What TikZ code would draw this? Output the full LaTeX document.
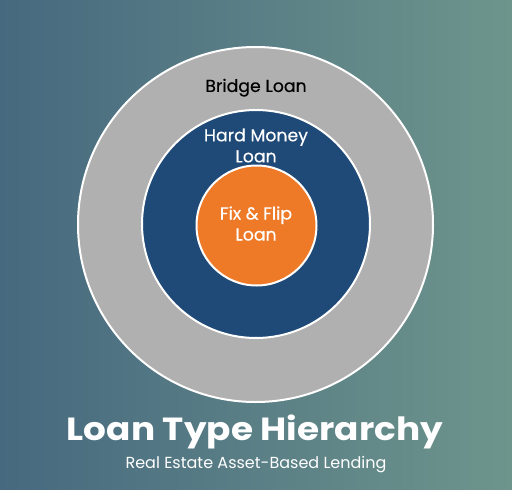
\documentclass[tikz,border=0pt]{standalone}
\usepackage{fontspec}
\setmainfont{Poppins}
\newfontfamily\pmed[FakeBold=0.35]{Poppins}
\definecolor{bgleft}{HTML}{46697F}
\definecolor{bgright}{HTML}{6E958C}
\definecolor{ringgrey}{HTML}{B0B0B0}
\definecolor{ringblue}{HTML}{1F4A78}
\definecolor{ringorange}{HTML}{EE7A27}
\tikzset{
  ring/.style={circle, draw=white, line width=2pt, inner sep=0pt},
  lbl/.style={align=center, inner sep=0pt, font=\pmed\fontsize{17.3}{21}\selectfont},
}
\begin{document}
\begin{tikzpicture}[x=1pt,y=-1pt]
\useasboundingbox (0,0) rectangle (512,490);
\shade[left color=bgleft, right color=bgright] (0,0) rectangle (512,490);
\node[ring, fill=ringgrey, minimum size=355pt] (outer) at (255.5,224.5) {};
\node[ring, fill=ringblue, minimum size=228pt] (middle) at (256,224) {};
\node[ring, fill=ringorange, minimum size=120pt] (inner) at (256.5,225.5) {};
\node[lbl, text=black] (bridge) at (256,87.7) {Bridge Loan};
\node[lbl, text=white] (hard) at (256,145.5) {Hard Money\\Loan};
\node[lbl, text=white] (fix) at (256,223.5) {Fix \& Flip\\Loan};
\node[text=white, inner sep=0pt, xscale=1.12, transform shape, font=\bfseries\fontsize{32}{36}\selectfont] (title) at (255,432) {Loan Type Hierarchy};
\node[text=white, inner sep=0pt, font=\fontsize{16}{19}\selectfont] (sub) at (256,465) {Real Estate Asset-Based Lending};
\end{tikzpicture}
\end{document}
